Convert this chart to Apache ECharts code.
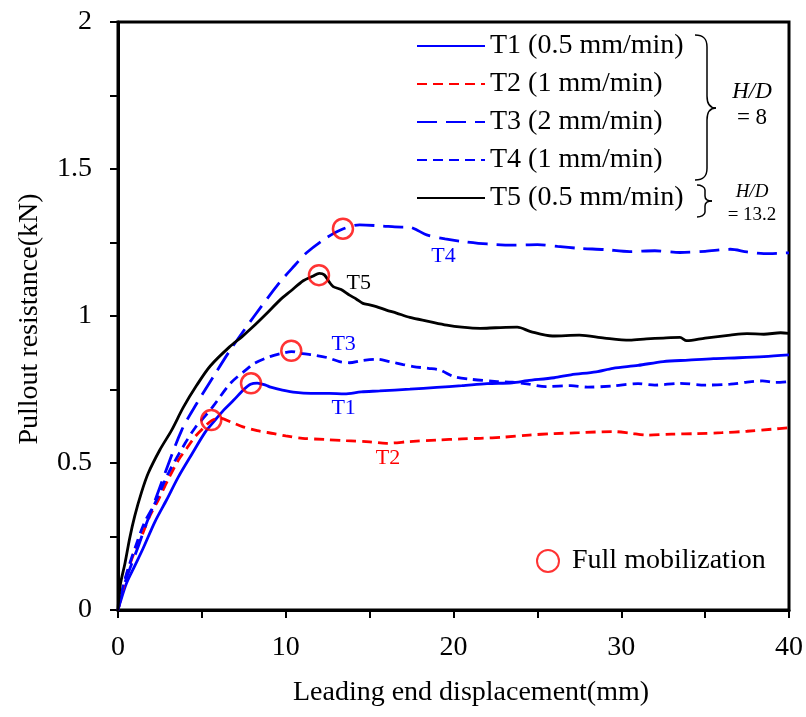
<!DOCTYPE html>
<html lang="en">
<head>
    <meta charset="UTF-8">
    <title>Pullout resistance</title>
    <style>
        html, body { margin: 0; padding: 0; background: #fff; }
        #chart { width: 806px; height: 717px; }
    </style>
</head>
<body>
<div id="chart"></div>
<script src="https://cdn.jsdelivr.net/npm/echarts@6/dist/echarts.min.js"></script>
<script type="text/javascript">
    // displacement (mm), resistance (kN)
    var t1 = [[0,0],[0.1,0.02],[0.5,0.09],[1.0,0.15],[1.5,0.21],[2.2,0.3],[2.9,0.375],[3.6,0.453],[4.4,0.53],[5.2,0.605],
        [5.7,0.64],[6.3,0.68],[6.9,0.714],[7.5,0.75],[7.9,0.768],[8.3,0.772],[8.8,0.765],[9.1,0.758],[9.8,0.748],[10.6,0.74],
        [11.5,0.737],[12.6,0.737],[13.5,0.735],[14.5,0.742],[15.6,0.745],[17.4,0.751],[19,0.757],[20.5,0.763],[22,0.77],
        [23.5,0.773],[24.4,0.78],[26,0.79],[27,0.8],[28.5,0.81],[29.5,0.822],[31,0.832],[32.5,0.845],[34,0.85],[35.5,0.855],
        [37,0.858],[38.5,0.862],[40,0.868]];
    var t2 = [[0,0],[0.2,0.05],[0.6,0.136],[1.0,0.2],[1.4,0.25],[1.9,0.32],[2.4,0.374],[3.0,0.445],[3.6,0.51],[4.1,0.55],
        [4.6,0.59],[5.1,0.62],[5.6,0.645],[6.1,0.653],[6.7,0.64],[7.45,0.623],[8.3,0.61],[9.3,0.6],[10,0.592],[11,0.584],
        [12.3,0.58],[13.6,0.576],[15,0.572],[16,0.567],[17.4,0.573],[19,0.578],[20.5,0.582],[21.6,0.584],[23,0.588],
        [24.5,0.595],[26,0.6],[27.5,0.603],[29.5,0.607],[30.5,0.602],[31.5,0.595],[33,0.598],[34.5,0.6],[36,0.603],
        [37.5,0.608],[39,0.615],[40,0.62]];
    var t3 = [[0,0],[0.4,0.09],[0.8,0.155],[1.2,0.215],[1.6,0.28],[2.0,0.34],[2.8,0.465],[3.8,0.612],[4.7,0.703],[5.7,0.795],
        [6.7,0.885],[8.06,0.995],[9.65,1.115],[10.5,1.17],[11.24,1.215],[12.4,1.265],[13.4,1.296],[14.4,1.31],[15.8,1.306],
        [16.5,1.303],[17.4,1.302],[17.9,1.29],[18.4,1.276],[19.5,1.262],[20.6,1.253],[22,1.245],[23.5,1.241],[25,1.243],
        [26.2,1.237],[27.5,1.23],[29,1.226],[30.5,1.219],[32,1.222],[33.5,1.216],[35,1.22],[36.5,1.227],[37.5,1.218],
        [38.5,1.212],[40,1.215]];
    var t4 = [[0,0],[0.3,0.08],[0.6,0.14],[1.1,0.225],[1.6,0.3],[2.2,0.363],[3.0,0.465],[4.0,0.567],[4.6,0.62],[5.2,0.66],
        [5.7,0.695],[6.7,0.771],[7.7,0.82],[8.1,0.838],[9.06,0.862],[9.7,0.872],[10.35,0.879],[11,0.872],[11.8,0.866],
        [12.5,0.858],[13.2,0.845],[13.8,0.841],[14.5,0.848],[15.4,0.853],[16.2,0.845],[17,0.835],[17.6,0.828],[18.5,0.822],
        [19.2,0.816],[20,0.794],[21,0.785],[22.6,0.777],[23.5,0.775],[24.5,0.768],[25.5,0.76],[27,0.763],[28,0.758],
        [29.5,0.762],[31,0.77],[32,0.765],[33.5,0.771],[35,0.765],[36.5,0.768],[37.5,0.775],[38.4,0.779],[39.2,0.774],[40,0.777]];
    var t5 = [[0,0],[0.05,0.04],[0.15,0.09],[0.42,0.16],[0.7,0.245],[1.0,0.32],[1.4,0.4],[1.8,0.465],[2.5,0.545],[3.2,0.612],
        [3.9,0.69],[4.7,0.765],[5.5,0.83],[6.67,0.896],[7.4,0.93],[8.06,0.964],[8.8,1.005],[9.65,1.054],[10.3,1.085],
        [11.04,1.12],[11.6,1.135],[12.0,1.145],[12.3,1.14],[12.6,1.115],[12.83,1.1],[13.3,1.09],[13.8,1.071],[14.2,1.058],
        [14.6,1.043],[15,1.038],[15.4,1.032],[16,1.02],[16.6,1.01],[17.4,0.995],[18.5,0.982],[19.6,0.969],[20.5,0.962],
        [21.6,0.958],[22.5,0.96],[23.8,0.962],[24.6,0.947],[25.9,0.932],[27.5,0.935],[29,0.925],[30.5,0.918],[31.5,0.922],
        [32.5,0.925],[33.5,0.927],[33.9,0.916],[35,0.925],[36.5,0.935],[37.5,0.94],[38.5,0.938],[39.5,0.943],[40,0.941]];
    // full mobilization points
    var peaks = [[5.56,0.646],[7.93,0.771],[10.33,0.882],[11.98,1.139],[13.41,1.297]];

    var seriesNames = ['T1 (0.5 mm/min)', 'T2 (1 mm/min)', 'T3 (2 mm/min)', 'T4 (1 mm/min)', 'T5 (0.5 mm/min)'];
    // in-plot curve labels: text, x, y, colour
    var curveLabels = [['T4', 19.4, 1.204, '#0000ff'], ['T5', 14.35, 1.113, '#000'], ['T3', 13.45, 0.905, '#0000ff'],
        ['T1', 13.45, 0.686, '#0000ff'], ['T2', 16.1, 0.516, '#ff0000']];

    var font = 'Liberation Serif, Times New Roman, serif';
    var chart = echarts.init(document.getElementById('chart'));

    function lineSeries(name, data, color, type) {
        return {
            name: name, type: 'line', data: data, symbol: 'none', smooth: 0.3,
            lineStyle: {color: color, width: 2.8, type: type},
            itemStyle: {color: color},
            z: 3
        };
    }

    var option = {
        animation: false,
        grid: {left: 118, right: 17, top: 22, bottom: 107, show: true, borderColor: '#000', borderWidth: 3},
        legend: [{
            data: seriesNames, orient: 'vertical', left: 416, top: 27, padding: 0,
            itemWidth: 68, itemHeight: 14, itemGap: 0,
            itemStyle: {opacity: 0},
            textStyle: {fontFamily: font, fontSize: 28, color: '#000', lineHeight: 38}
        }, {
            data: ['Full mobilization'], left: 536, top: 542, padding: 0,
            itemWidth: 22, itemHeight: 22,
            textStyle: {fontFamily: font, fontSize: 28, color: '#000', lineHeight: 38, padding: [0, 0, 0, 8]}
        }],
        xAxis: {
            type: 'value', min: 0, max: 40, interval: 5,
            axisLine: {lineStyle: {color: '#000', width: 3}},
            axisTick: {length: 8, lineStyle: {color: '#000', width: 2}},
            splitLine: {show: false},
            axisLabel: {
                margin: 24, color: '#000', fontFamily: font, fontSize: 28,
                formatter: function (v) { return v % 10 === 0 ? String(v) : ''; }
            }
        },
        yAxis: {
            type: 'value', min: 0, max: 2, interval: 0.25,
            axisLine: {lineStyle: {color: '#000', width: 3}},
            axisTick: {length: 8, lineStyle: {color: '#000', width: 2}},
            splitLine: {show: false},
            axisLabel: {
                margin: 26, color: '#000', fontFamily: font, fontSize: 28,
                formatter: function (v) { return Math.abs(v * 2 - Math.round(v * 2)) < 1e-9 ? String(v) : ''; }
            }
        },
        series: [
            lineSeries(seriesNames[0], t1, '#0000ff', 'solid'),
            lineSeries(seriesNames[1], t2, '#ff0000', [10, 6]),
            lineSeries(seriesNames[2], t3, '#0000ff', [20, 9]),
            lineSeries(seriesNames[3], t4, '#0000ff', [10, 6]),
            lineSeries(seriesNames[4], t5, '#000000', 'solid'),
            {
                name: 'Full mobilization', type: 'scatter', data: peaks,
                symbol: 'circle', symbolSize: 20, z: 5,
                itemStyle: {color: 'rgba(255,255,255,0)', borderColor: '#ff0000', borderWidth: 2.5}
            }
        ]
    };
    chart.setOption(option);

    var g = [];
    curveLabels.forEach(function (c) {
        var p = chart.convertToPixel({gridIndex: 0}, [c[1], c[2]]);
        g.push({type: 'text', x: p[0], y: p[1], z: 10,
            style: {text: c[0], fill: c[3], font: '22px ' + font, align: 'center', verticalAlign: 'middle'}});
    });
    // axis titles
    g.push({type: 'text', x: 471, y: 693, style: {text: 'Leading end displacement(mm)', fill: '#000',
        font: '28px ' + font, align: 'center', verticalAlign: 'middle'}});
    g.push({type: 'text', x: 30, y: 319, rotation: Math.PI / 2, style: {text: 'Pullout resistance(kN)', fill: '#000',
        font: '28px ' + font, align: 'center', verticalAlign: 'middle'}});

    // curly braces grouping the legend rows
    function brace(x0, xs, xt, yTop, yMid, yBot, r) {
        var st = {stroke: '#000', lineWidth: 1.5, fill: null};
        g.push({type: 'bezierCurve', shape: {x1: x0, y1: yTop, x2: xs, y2: yTop + r, cpx1: x0 + r * 0.8, cpy1: yTop, cpx2: xs, cpy2: yTop + r * 0.4}, style: st});
        g.push({type: 'line', shape: {x1: xs, y1: yTop + r, x2: xs, y2: yMid - r}, style: st});
        g.push({type: 'bezierCurve', shape: {x1: xs, y1: yMid - r, x2: xt, y2: yMid, cpx1: xs, cpy1: yMid - r * 0.3, cpx2: xs + (xt - xs) * 0.4, cpy2: yMid}, style: st});
        g.push({type: 'bezierCurve', shape: {x1: xt, y1: yMid, x2: xs, y2: yMid + r, cpx1: xs + (xt - xs) * 0.4, cpy1: yMid, cpx2: xs, cpy2: yMid + r * 0.3}, style: st});
        g.push({type: 'line', shape: {x1: xs, y1: yMid + r, x2: xs, y2: yBot - r}, style: st});
        g.push({type: 'bezierCurve', shape: {x1: xs, y1: yBot - r, x2: x0, y2: yBot, cpx1: xs, cpy1: yBot - r * 0.4, cpx2: x0 + r * 0.8, cpy2: yBot}, style: st});
    }
    brace(695, 707, 716, 35, 108, 180, 12);
    brace(697, 705, 712, 185, 201, 217, 5);

    g.push({type: 'text', x: 752, y: 92, style: {text: 'H/D', fill: '#000', font: 'italic 23px ' + font, align: 'center', verticalAlign: 'middle'}});
    g.push({type: 'text', x: 752, y: 118, style: {text: '= 8', fill: '#000', font: '23px ' + font, align: 'center', verticalAlign: 'middle'}});
    g.push({type: 'text', x: 752, y: 192, style: {text: 'H/D', fill: '#000', font: 'italic 19px ' + font, align: 'center', verticalAlign: 'middle'}});
    g.push({type: 'text', x: 752, y: 215, style: {text: '= 13.2', fill: '#000', font: '19px ' + font, align: 'center', verticalAlign: 'middle'}});
    chart.setOption({graphic: g});
</script>
</body>
</html>
